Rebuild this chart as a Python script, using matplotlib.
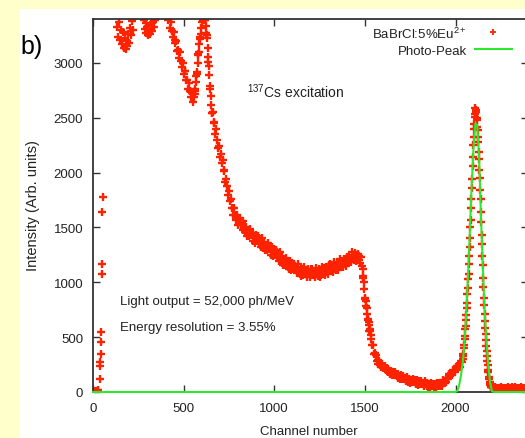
import numpy as np
import matplotlib
matplotlib.use("Agg")
import matplotlib.pyplot as plt
from matplotlib.lines import Line2D
from matplotlib.patches import Rectangle

plt.rcParams['font.family'] = ['Liberation Sans', 'DejaVu Sans']
plt.rcParams['mathtext.fontset'] = 'custom'
plt.rcParams['mathtext.rm'] = 'Liberation Sans'
plt.rcParams['mathtext.it'] = 'Liberation Sans:italic'
plt.rcParams['mathtext.bf'] = 'Liberation Sans:bold'

# spectrum (values above 3400 are off the chart)
low_ch = [0, 5, 10, 15, 20, 25, 30, 36, 38, 40, 42, 44, 46, 48, 50, 52, 55]
low_counts = [0, 8, 0, 12, 5, 20, 10, 120, 240, 275, 345, 455, 545, 1075, 1170, 1640, 1780]

main_ch = np.arange(60, 2040, 5)
main_counts = [
    3700, 4000, 4300, 4600, 4800, 5000, 5100, 5000, 4900, 4700,   # 60
    4400, 4100, 3800, 3600, 3450, 3330, 3240, 3370, 3210, 3300,   # 110
    3170, 3280, 3140, 3230, 3130, 3200, 3150, 3260, 3180, 3320,   # 160
    3250, 3380, 3300, 3410, 3500, 3600, 3700, 3650, 3600, 3550,   # 210
    3500, 3480, 3450, 3420, 3390, 3310, 3360, 3270, 3330, 3250,   # 260
    3310, 3260, 3350, 3290, 3370, 3330, 3390, 3410, 3450, 3500,   # 310
    3550, 3600, 3620, 3600, 3580, 3550, 3520, 3500, 3480, 3450,   # 360
    3460, 3390, 3400, 3320, 3370, 3290, 3240, 3280, 3180, 3210,   # 410
    3195, 3110, 3120, 3040, 3095, 3015, 2965, 2995, 2895, 2930,   # 460
    2925, 2840, 2840, 2760, 2820, 2745, 2685, 2725, 2640, 2690,   # 510
    2720, 2760, 2880, 2920, 3070, 3100, 3220, 3260, 3370, 3390,   # 560
    3450, 3390, 3390, 3270, 3230, 3050, 2970, 2790, 2700, 2540,   # 610
    2555, 2460, 2450, 2355, 2395, 2300, 2225, 2245, 2140, 2165,   # 660
    2085, 2115, 2025, 2015, 1910, 1945, 1875, 1795, 1830, 1742,   # 710
    1755, 1675, 1680, 1610, 1675, 1610, 1565, 1610, 1525, 1575,   # 760
    1585, 1520, 1540, 1480, 1555, 1495, 1455, 1505, 1425, 1477,   # 810
    1425, 1487, 1430, 1452, 1380, 1447, 1410, 1362, 1430, 1375,   # 860
    1420, 1358, 1380, 1325, 1405, 1347, 1310, 1365, 1290, 1343,   # 910
    1290, 1355, 1300, 1322, 1250, 1320, 1285, 1238, 1305, 1250,   # 960
    1295, 1232, 1255, 1198, 1275, 1217, 1180, 1235, 1160, 1213,   # 1010
    1160, 1225, 1170, 1192, 1120, 1190, 1155, 1110, 1180, 1125,   # 1060
    1170, 1110, 1135, 1082, 1165, 1110, 1075, 1133, 1060, 1117,   # 1110
    1070, 1138, 1085, 1112, 1045, 1119, 1088, 1046, 1120, 1070,   # 1160
    1120, 1065, 1095, 1046, 1133, 1084, 1055, 1117, 1050, 1113,   # 1210
    1070, 1142, 1095, 1128, 1065, 1142, 1115, 1078, 1155, 1109,   # 1260
    1163, 1112, 1145, 1098, 1187, 1141, 1115, 1179, 1113, 1177,   # 1310
    1135, 1208, 1162, 1196, 1135, 1214, 1188, 1152, 1230, 1185,   # 1360
    1240, 1190, 1225, 1182, 1273, 1229, 1205, 1267, 1195, 1251,   # 1410
    1262, 1206, 1238, 1178, 1230, 1150, 1055, 1000, 850, 825,     # 1460
    765, 665, 640, 560, 570, 485, 425, 430, 350, 355,             # 1510
    335, 285, 295, 252, 280, 250, 228, 255, 215, 236,             # 1560
    240, 200, 215, 185, 214, 188, 168, 192, 158, 178,             # 1610
    151, 182, 153, 164, 130, 161, 142, 118, 152, 123,             # 1660
    146, 115, 127, 99, 138, 110, 92, 120, 84, 112,                # 1710
    87, 120, 93, 106, 74, 107, 90, 68, 104, 76,                   # 1760
    100, 70, 83, 56, 96, 69, 52, 80, 44, 72,                      # 1810
    47, 81, 55, 69, 38, 73, 58, 39, 78, 54,                       # 1860
    83, 58, 77, 57, 105, 87, 80, 118, 93, 132,                    # 1910
    118, 162, 147, 172, 152, 197, 192, 180, 225, 206,             # 1960
    238, 218, 243, 230, 287, 277,                                 # 2010
]

# extra channels on the steep edges
edge_ch = [562, 567, 572, 577, 582, 587, 592, 597,
           617, 622, 627, 632, 637, 642, 647, 652, 657,
           1487, 1492, 1497, 1502, 1507, 1512, 1517, 1522, 1527, 1532]
edge_counts = [2740, 2830, 2900, 3000, 3080, 3170, 3240, 3320,
               3390, 3340, 3250, 3140, 3010, 2890, 2760, 2620, 2540,
               1120, 1040, 940, 860, 780, 715, 655, 610, 560, 520]

peak_ch = np.arange(2040, 2200, 2)
peak_counts = [
    300, 330, 350, 400, 430, 480, 510, 570, 600, 660,
    700, 770, 810, 890, 950, 1030, 1080, 1170, 1240, 1320,
    1400, 1500, 1570, 1680, 1760, 1860, 1940, 2060, 2140, 2250,
    2320, 2400, 2440, 2510, 2530, 2590, 2570, 2550, 2500, 2480,
    2420, 2390, 2320, 2280, 2190, 2120, 2020, 1950, 1840, 1760,
    1640, 1550, 1430, 1350, 1240, 1160, 1040, 960, 860, 790,
    710, 650, 580, 530, 470, 420, 370, 330, 280, 250,
    200, 180, 140, 120, 95, 80, 65, 55, 48, 42,
]

tail_ch = np.arange(2200, 2410, 10)
tail_counts = [45, 38, 42, 35, 40, 44, 36, 41, 38, 43, 37,
               42, 39, 44, 36, 40, 43, 38, 41, 37, 42]

# photo-peak fit
fit_ch = [0, 2000, 2010, 2020, 2030, 2040, 2050, 2060, 2070, 2080, 2090,
          2100, 2110, 2120, 2130, 2140, 2150, 2160, 2170, 2180, 2190,
          2200, 2210, 2400]
fit_counts = [0, 0, 10, 60, 150, 270, 460, 740, 1100, 1500, 1910,
              2250, 2450, 2430, 2150, 1620, 1180, 760, 480, 255, 100,
              10, 0, 0]

x_ticks = [0, 500, 1000, 1500, 2000]
y_ticks = [0, 500, 1000, 1500, 2000, 2500, 3000]

red = '#ff2200'
green = '#2ee82e'

W, H = 525, 439
fig = plt.figure(figsize=(W / 100, H / 100), dpi=100, facecolor='#ffffcc')
fig.patches.append(Rectangle((20 / W, 0), 1 - 20 / W, 1 - 10 / H,
                             transform=fig.transFigure, facecolor='white',
                             edgecolor='none', zorder=-5))

ax = fig.add_axes([93 / W, 1 - 393 / H, 435 / W, 373 / H])
ax.set_facecolor('white')

mk = dict(ls='none', marker='+', ms=6, mew=1.7, color=red)
ax.plot(low_ch, low_counts, **mk)
ax.plot(main_ch, main_counts, **mk)
ax.plot(edge_ch, edge_counts, **mk)
ax.plot(peak_ch, peak_counts, **mk)
ax.plot(tail_ch, tail_counts, **mk)
ax.plot(fit_ch, fit_counts, color=green, lw=1.5, zorder=3, clip_on=False)

ax.set_xlim(0, 2400)
ax.set_ylim(0, 3400)
ax.set_xticks(x_ticks)
ax.set_yticks(y_ticks)
ax.tick_params(direction='in', length=5, width=1, top=True, right=True,
               labelsize=9.5, pad=7, color='#333333', labelcolor='#222222')
for s in ax.spines.values():
    s.set_color('#333333')
    s.set_linewidth(1.3)

fig.text(33 / W, 1 - 206 / H, 'Intensity (Arb. units)', rotation=90,
         ha='center', va='center', fontsize=10.5, color='#222222')
fig.text(309 / W, 1 - 432 / H, 'Channel number', ha='center', va='center',
         fontsize=9.5, color='#222222')

fig.text(20 / W, 1 - 47 / H, 'b)', ha='left', va='center', fontsize=18)
fig.text(247 / W, 1 - 98 / H, r'$^{137}$Cs excitation', ha='left',
         va='baseline', fontsize=10, color='#222222')
fig.text(120 / W, 1 - 302 / H, 'Light output = 52,000 ph/MeV', ha='left',
         va='center', fontsize=9.5, color='#222222')
fig.text(120 / W, 1 - 328 / H, 'Energy resolution = 3.55%', ha='left',
         va='center', fontsize=9.5, color='#222222')

# key
fig.text(467 / W, 1 - 39 / H, r'BaBrCl:5%Eu$^{2+}$', ha='right',
         va='baseline', fontsize=9.5, color='#222222')
fig.text(467 / W, 1 - 55 / H, 'Photo-Peak', ha='right', va='baseline',
         fontsize=9.5, color='#222222')
fig.add_artist(Line2D([493 / W], [1 - 33 / H], transform=fig.transFigure,
                      ls='none', marker='+', ms=5, mew=1.3, color=red))
fig.add_artist(Line2D([475 / W, 512 / W], [1 - 50 / H] * 2,
                      transform=fig.transFigure, color=green, lw=1.5))

fig.savefig('out.png', dpi=100, facecolor=fig.get_facecolor())
